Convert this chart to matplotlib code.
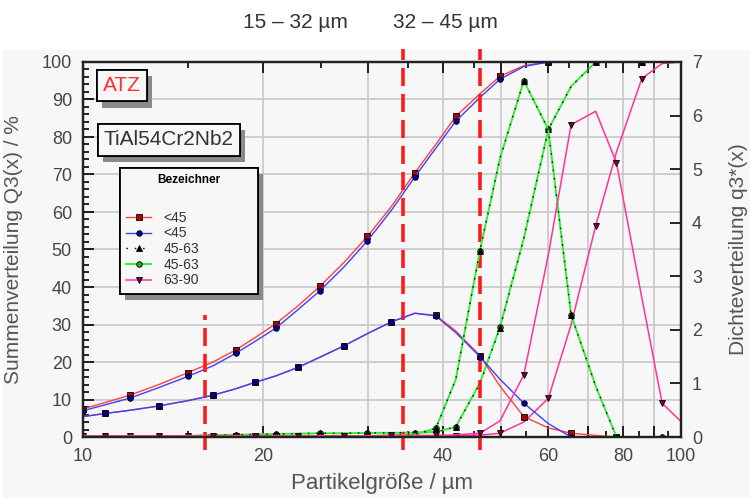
import numpy as np
import matplotlib
matplotlib.use("Agg")
import matplotlib.pyplot as plt
from matplotlib.patches import Rectangle
from matplotlib.ticker import FixedLocator, FixedFormatter, NullFormatter
import matplotlib.patheffects as pe

plt.rcParams['font.family'] = ['Liberation Sans', 'DejaVu Sans']

nan = np.nan

# particle size classes (µm)
sizes = [10.0, 10.9, 12.0, 13.4, 15.0, 16.5, 18.0, 19.4, 21.0, 22.9, 24.9, 27.3, 29.9, 32.8,
         35.9, 38.9, 42.0, 46.1, 49.8, 54.6, 60.0, 65.5, 72.0, 78.0, 86.0, 93.0, 100.0]

# cumulative distribution Q3 (%)
q3_red_lt45 = [7.5, 9.2, 11.2, 14.0, 17.2, 20.0, 23.2, 26.5, 30.2, 35.0, 40.2, 46.5, 53.5, 61.5,
               70.5, 78.0, 85.5, 91.5, 96.2, 99.0, 100.0, nan, nan, nan, nan, nan, nan]
q3_blue_lt45 = [7.0, 8.6, 10.4, 13.2, 16.2, 19.0, 22.3, 25.5, 29.0, 34.0, 39.0, 45.3, 52.3, 60.5,
                69.4, 77.0, 84.2, 90.5, 95.4, 98.8, 100.0, nan, nan, nan, nan, nan, nan]
q3_black_45_63 = [0.0, 0.0, 0.0, 0.1, 0.3, 0.5, 0.6, 0.7, 0.8, 0.9, 1.0, 1.0, 1.1, 1.1,
                  1.2, 1.3, 2.7, 14.2, 29.0, 53.0, 82.0, 93.5, 100.0, 100.0, 100.0, 100.0, nan]
q3_green_45_63 = [0.0, 0.0, 0.0, 0.1, 0.3, 0.5, 0.6, 0.7, 0.8, 0.9, 1.0, 1.0, 1.1, 1.1,
                  1.2, 1.3, 2.7, 14.4, 29.3, 53.0, 82.0, 93.5, 100.0, 100.0, 100.0, 100.0, nan]
q3_pink_63_90 = [0.2, 0.2, 0.2, 0.2, 0.2, 0.2, 0.2, 0.2, 0.2, 0.2, 0.2, 0.2, 0.2, 0.3,
                 0.3, 0.3, 0.3, 0.5, 1.0, 4.0, 10.3, 30.0, 56.3, 76.0, 95.6, 99.6, 100.0]

# density distribution q3* (right axis)
q3d_red_lt45 = [0.38, 0.44, 0.50, 0.58, 0.68, 0.78, 0.90, 1.02, 1.14, 1.30, 1.49, 1.70, 1.93, 2.15,
                2.31, 2.27, 1.98, 1.52, 0.95, 0.38, 0.17, 0.07, 0.03, 0.0, nan, nan, nan]
q3d_blue_lt45 = [0.38, 0.44, 0.50, 0.58, 0.68, 0.78, 0.90, 1.02, 1.14, 1.30, 1.49, 1.70, 1.93, 2.15,
                 2.31, 2.26, 1.95, 1.50, 1.08, 0.63, 0.25, 0.0, 0.0, 0.0, nan, nan, nan]
q3d_black_45_63 = [0.01, 0.01, 0.01, 0.01, 0.01, 0.02, 0.02, 0.02, 0.02, 0.02, 0.02, 0.02, 0.02, 0.03,
                   0.05, 0.16, 1.07, 3.48, 5.2, 6.65, 5.74, 2.28, 0.95, 0.0, 0.0, 0.0, 0.0]
q3d_green_45_63 = [0.01, 0.01, 0.01, 0.01, 0.01, 0.02, 0.02, 0.02, 0.02, 0.02, 0.02, 0.02, 0.02, 0.03,
                   0.05, 0.16, 1.07, 3.48, 5.2, 6.65, 5.74, 2.28, 0.95, 0.0, 0.0, 0.0, 0.0]
q3d_pink_63_90 = [0.02, 0.02, 0.02, 0.02, 0.02, 0.02, 0.02, 0.02, 0.02, 0.02, 0.02, 0.02, 0.02, 0.03,
                  0.03, 0.03, 0.04, 0.07, 0.30, 1.16, 3.4, 5.83, 6.08, 5.12, 2.6, 0.63, 0.29]

labels = ['<45', '<45', '45-63', '45-63', '63-90']
cut_sizes = [16.0, 34.3, 46.1]
range_labels = ['15 – 32 µm', '32 – 45 µm']

bg = '#f7f7f7'
txt = '#454545'
shadow = [pe.withSimplePatchShadow(offset=(3.6, -4.5), shadow_rgbFace='#8a8a8a', alpha=1), pe.Normal()]

fig = plt.figure(figsize=(7.5, 4.98), dpi=100)
fig.patches.append(Rectangle((3 / 750, 0), 1, 1 - 50 / 498, transform=fig.transFigure,
                             facecolor=bg, edgecolor='none', zorder=-10))
ax = fig.add_axes([83 / 750, 1 - 437 / 498, 598 / 750, 375 / 498])
ax.set_facecolor(bg)
ax.set_xscale('log')
ax.set_xlim(10, 100)
ax.set_ylim(0, 100)
ax2 = ax.twinx()
ax2.set_ylim(0, 7)

# axes / ticks
ax.xaxis.set_major_locator(FixedLocator([10, 20, 30, 40, 50, 60, 70, 80, 90, 100]))
ax.xaxis.set_major_formatter(FixedFormatter(['10', '20', '', '40', '', '60', '', '80', '', '100']))
ax.xaxis.set_minor_locator(FixedLocator([15, 25, 35, 45, 55, 65, 75, 85, 95]))
ax.xaxis.set_minor_formatter(NullFormatter())
ax.set_yticks(np.arange(0, 101, 10))
ax.set_yticks(np.arange(0, 101, 2), minor=True)
ax2.set_yticks(np.arange(0, 8, 1))
ax.tick_params(which='both', direction='in', top=True, labelsize=13, labelcolor=txt, width=1.2)
ax.tick_params(which='major', length=8, pad=8)
ax.tick_params(which='minor', length=4)
ax2.tick_params(direction='in', length=8, width=1.2, labelsize=13, labelcolor=txt, pad=8)
ax.grid(True, which='major', color='#c8c8c8', lw=1.2)
ax.set_axisbelow(True)
for a in (ax, ax2):
    for s in a.spines.values():
        s.set_linewidth(1.6)
        s.set_color('#222222')

ax.set_xlabel('Partikelgröße / µm', fontsize=16, color='#555555')
ax.set_ylabel('Summenverteilung Q3(x) / %', fontsize=15, color='#555555')
ax2.set_ylabel('Dichteverteilung q3*(x)', fontsize=15, color='#555555')
ax.xaxis.set_label_coords(0.5, -0.096)
ax.yaxis.set_label_coords(-0.1, 0.5)
ax2.yaxis.set_label_coords(1.08, 0.5)

styles = [
    dict(color='#ff4040', marker='s', mfc='#b00000', mec='black', ms=4),
    dict(color='#4040ff', marker='o', mfc='#0000a0', mec='black', ms=4),
    dict(color='black', marker='^', mfc='black', mec='black', ms=4.5),
    dict(color='#33ee33', marker='o', mfc='#22aa22', mec='black', ms=4),
    dict(color='#ff3399', marker='v', mfc='#800040', mec='black', ms=4.5),
]
widths = [1.0, 1.0, 1.0, 1.4, 1.1]
cums = [q3_red_lt45, q3_blue_lt45, q3_black_45_63, q3_green_45_63, q3_pink_63_90]
dens = [q3d_red_lt45, q3d_blue_lt45, q3d_black_45_63, q3d_green_45_63, q3d_pink_63_90]
order = [0, 1, 3, 2, 4]
cum_marks = list(range(0, 25, 2))
den_marks = list(range(1, 26, 2))

handles = [None] * 5
for i in order:
    st = styles[i]
    ls = (0, (1, 5)) if i == 2 else '-'
    h, = ax.plot(sizes, cums[i], ls=ls, lw=widths[i], markevery=cum_marks, mew=0.6, **st)
    ax2.plot(sizes, dens[i], ls=ls, lw=widths[i], markevery=den_marks, mew=0.6, **st)
    handles[i] = h

# red dashed size cuts
ax.axvline(cut_sizes[0], ymin=-0.035, ymax=0.325, color='#ff1a1a', lw=2.6,
           ls=(0, (5, 2.2)), clip_on=False, zorder=6)
for c in cut_sizes[1:]:
    ax.axvline(c, ymin=-0.035, ymax=1.035, color='#ff1a1a', lw=2.6,
               ls=(0, (5, 2.2)), clip_on=False, zorder=6)

fig.text(295 / 750, 1 - 22 / 498, range_labels[0], fontsize=15, color='#333333', ha='center', va='center')
fig.text(445 / 750, 1 - 22 / 498, range_labels[1], fontsize=15, color='#333333', ha='center', va='center')


def boxed(x, y, s, color):
    t = ax2.text(x, y, s, transform=ax2.transAxes, color=color, fontsize=15, ha='left', va='top', zorder=8,
                 bbox=dict(boxstyle='square,pad=0.3', fc=bg, ec='black', lw=1.3))
    t.get_bbox_patch().set_path_effects(shadow)


boxed(0.034, 0.962, 'ATZ', '#ff3030')
boxed(0.035, 0.818, 'TiAl54Cr2Nb2', '#333333')

leg = ax2.legend(handles, labels, loc='upper left', mode='expand',
                 bbox_to_anchor=((120 - 83) / 598, (437 - 297) / 375, 138 / 598, 129 / 375),
                 borderaxespad=0, title='Bezeichner\n',
                 title_fontproperties={'weight': 'bold', 'size': 8.5},
                 fontsize=10, handlelength=1.8, handletextpad=0.9, labelspacing=0.12,
                 borderpad=0.45, fancybox=False, edgecolor='black', facecolor=bg, framealpha=1)
leg.get_title().set_linespacing(2.2)
leg.get_frame().set_linewidth(1.3)
leg.get_frame().set_path_effects(shadow)
for t in leg.get_texts():
    t.set_color('#333333')
leg.set_zorder(9)

fig.savefig('out.png', dpi=100)
